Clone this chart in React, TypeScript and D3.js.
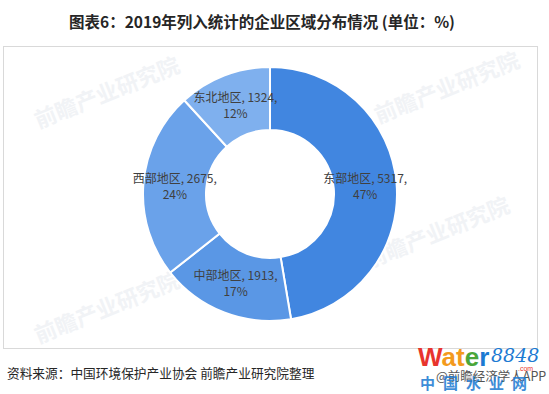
import React from "react";
import * as d3 from "d3";

const regions = ["东部地区", "中部地区", "西部地区", "东北地区"];
const counts = [5317, 1913, 2675, 1324];
const shares = ["47%", "17%", "24%", "12%"];
const sliceColors = ["#4186e0", "#5a97e5", "#6aa2ea", "#7fb0ee"];

const title = "图表6：2019年列入统计的企业区域分布情况 (单位：%)";
const source = "资料来源：中国环境保护产业协会 前瞻产业研究院整理";

const W = 549;
const H = 394;
const cx = 270;
const cy = 194;
const outerR = 127;
const innerR = 64;

const font = "'Noto Sans CJK SC', 'Noto Sans', sans-serif";

const App = () => {
  const pie = d3
    .pie<number>()
    .sort(null)
    .value((d) => d);
  const arcs = pie(counts);
  const arc = d3.arc<d3.PieArcDatum<number>>().innerRadius(innerR).outerRadius(outerR);
  const labelArc = d3
    .arc<d3.PieArcDatum<number>>()
    .innerRadius((innerR + outerR) / 2)
    .outerRadius((innerR + outerR) / 2);

  return (
    <div style={{ position: "absolute", left: 0, top: 0, width: W, height: H, background: "#fff" }}>
      <svg width={W} height={H} style={{ display: "block" }}>
        <rect width={W} height={H} fill="#fff" />
        <text
          x={262}
          y={28}
          textAnchor="middle"
          fontFamily={font}
          fontWeight="bold"
          fontSize={15.5}
          fill="#262626"
        >
          {title}
        </text>

        {/* chart frame */}
        <rect x={3.5} y={46.5} width={534} height={302} fill="none" stroke="#d9d9d9" strokeWidth={1} />

        {/* faint watermarks */}
        {[
          [110, 100],
          [450, 95],
          [110, 315],
          [440, 240],
        ].map(([x, y], i) => (
          <text
            key={i}
            x={x}
            y={y}
            transform={`rotate(-22 ${x} ${y})`}
            textAnchor="middle"
            fontFamily={font}
            fontWeight="bold"
            fontSize={22}
            fill="#f1f3f6"
          >
            前瞻产业研究院
          </text>
        ))}

        <g transform={`translate(${cx},${cy})`}>
          {arcs.map((a, i) => (
            <path key={regions[i]} d={arc(a) || ""} fill={sliceColors[i]} stroke="#fff" strokeWidth={2} />
          ))}
          {arcs.map((a, i) => {
            const [x, y] = labelArc.centroid(a);
            return (
              <text
                key={`l-${regions[i]}`}
                x={x}
                y={y}
                textAnchor="middle"
                fontFamily={font}
                fontSize={12}
                fill="#404040"
              >
                <tspan x={x} dy={-3}>
                  {`${regions[i]}, ${counts[i]},`}
                </tspan>
                <tspan x={x} dy={16}>
                  {shares[i]}
                </tspan>
              </text>
            );
          })}
        </g>

        <text x={7} y={378} fontFamily={font} fontSize={12.7} fill="#262626">
          {source}
        </text>

        {/* site logo */}
        <text x={418} y={366} fontFamily="'Liberation Sans', sans-serif" fontWeight="bold" fontSize={26}>
          <tspan fill="#e8342d">W</tspan>
          <tspan fill="#f39a1d">a</tspan>
          <tspan fill="#f39a1d">t</tspan>
          <tspan fill="#4aa63a">e</tspan>
          <tspan fill="#1c7ad2">r</tspan>
        </text>
        <text x={491} y={362} fontFamily="'DejaVu Serif', serif" fontStyle="italic" fontSize={19} fill="#1c7ad2">
          8848
        </text>
        <text x={518} y={371} fontFamily="'Liberation Sans', sans-serif" fontSize={7} fill="#e8342d">
          .com
        </text>
        <text x={436} y={381} fontFamily={font} fontSize={12.5} fill="#555">
          @前瞻经济学人APP
        </text>
        <text
          x={420}
          y={389}
          fontFamily={font}
          fontWeight="bold"
          fontSize={15}
          letterSpacing={8}
          fill="#1c7ad2"
          opacity={0.85}
        >
          中国水业网
        </text>
      </svg>
    </div>
  );
};

export default App;
